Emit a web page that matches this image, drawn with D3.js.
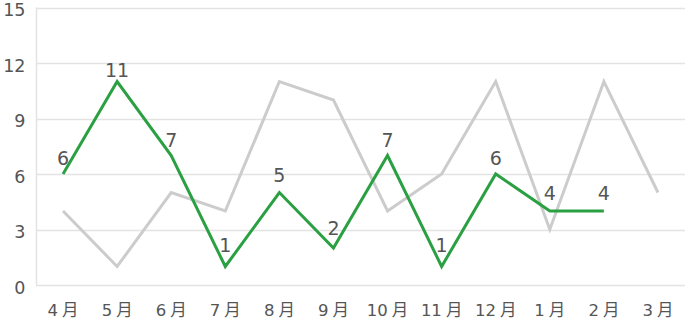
<!DOCTYPE html>
<html><head><meta charset="utf-8">
<script src="https://cdn.jsdelivr.net/npm/d3@7"></script>
<style>body{margin:0;background:#fff}svg{display:block}</style>
</head><body>
<svg id="c" width="685" height="323"></svg>
<script>
const categories = ["4月","5月","6月","7月","8月","9月","10月","11月","12月","1月","2月","3月"];
const grayValues = [4,1,5,4,11,10,4,6,11,3,11,5];
const greenValues = [6,11,7,1,5,2,7,1,6,4,4,null];
const yTicks = [0,3,6,9,12,15];

(function(){
const svg = d3.select("#c");
const mLeft = 36, mRight = 685, mTop = 7.5, mBottom = 285;
const x = d3.scaleBand().domain(categories).range([mLeft, mRight]).padding(0);
const y = d3.scaleLinear().domain([0,15]).range([mBottom, mTop]);
const yLabel = d3.scaleLinear().domain([0,15]).range([mBottom - 15.5, mTop - 0.5]);
const cx = d => x(d) + x.bandwidth()/2;
const font = "'DejaVu Sans','Noto Sans CJK JP',sans-serif";

svg.append("g").selectAll("line").data(yTicks).join("line")
  .attr("x1", mLeft).attr("x2", mRight)
  .attr("y1", d => Math.round(y(d))+0.5).attr("y2", d => Math.round(y(d))+0.5)
  .attr("stroke", "#e3e3e3").attr("stroke-width", 1.5);
svg.append("line").attr("x1", mLeft+0.5).attr("x2", mLeft+0.5).attr("y1", y(15)).attr("y2", y(0))
  .attr("stroke", "#e3e3e3").attr("stroke-width", 1.5);

svg.append("g").selectAll("text").data(yTicks).join("text")
  .attr("x", 25.5).attr("y", d => y(d) + 8.5)
  .attr("text-anchor", "end").attr("font-family", font).attr("font-size", 17.5)
  .attr("fill", "#555").text(d => d);

svg.append("g").selectAll("text").data(categories).join("text")
  .attr("x", d => cx(d)).attr("y", 316)
  .attr("text-anchor", "middle").attr("font-family", font).attr("font-size", 16.5)
  .attr("fill", "#555")
  .each(function(d){
    const t = d3.select(this);
    const num = d.replace("月","");
    t.append("tspan").text(num);
    t.append("tspan").attr("dx", 4).text("月");
  });

const line = d3.line().defined(d => d.v != null).x(d => cx(d.c)).y(d => y(d.v));
const grayData = categories.map((c,i) => ({c, v: grayValues[i]}));
const greenData = categories.map((c,i) => ({c, v: greenValues[i]}));

svg.append("path").datum(grayData).attr("d", line)
  .attr("fill", "none").attr("stroke", "#cccccc").attr("stroke-width", 3);
svg.append("path").datum(greenData).attr("d", line)
  .attr("fill", "none").attr("stroke", "#2ba043").attr("stroke-width", 3);

svg.append("g").selectAll("text").data(greenData.filter(d => d.v != null)).join("text")
  .attr("x", d => cx(d.c)).attr("y", d => yLabel(d.v))
  .attr("text-anchor", "middle").attr("font-family", font).attr("font-size", 19)
  .attr("fill", "#555").text(d => d.v);
})();
</script>
</body></html>
